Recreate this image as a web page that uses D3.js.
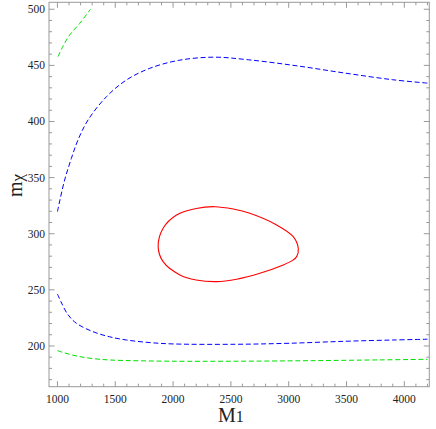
<!DOCTYPE html>
<html>
<head>
<meta charset="utf-8">
<script src="https://cdn.jsdelivr.net/npm/d3@7/dist/d3.min.js"></script>
<style>
  body { margin: 0; background: #fff; }
  .tick-label { font-family: "Liberation Serif", "DejaVu Serif", serif; font-size: 11.5px; fill: #222; }
  .axis-title { font-family: "Liberation Serif", "DejaVu Serif", serif; fill: #222; }
</style>
</head>
<body>
<div id="chart"></div>
<script>
// contour lines, as [M1, m_chi]
const redContour = [
    [1871, 288.5], [1914, 304.9], [2030, 316.7], [2200, 322.5], [2362, 324.1],
    [2520, 322.0], [2664, 318.2], [2896, 307.8], [3039, 297.4], [3083, 287],
    [3069, 279.6], [3030, 276.0], [2953, 272.2], [2751, 264.8], [2550, 259.5],
    [2376, 257.3], [2200, 258.8], [2059, 263.3], [1914, 275.1]
];
const blueUpper = [
    [1000, 319.7], [1060, 347], [1120, 367], [1178, 383.6], [1265, 401.4],
    [1424, 422.1], [1597, 437], [1799, 447.4], [2050, 454.5], [2350, 457.3],
    [2650, 455], [3063, 449.7], [3495, 443], [3900, 437.2], [4200, 434.2]
];
const blueLower = [
    [1000, 246.3], [1030, 239.5], [1090, 228], [1164, 220.2], [1308, 212.7],
    [1450, 208.2], [1597, 205.3], [1800, 203], [2000, 201.8], [2543, 201.5],
    [3005, 202.4], [3495, 204.2], [3900, 205.3], [4200, 206]
];
const greenUpper = [
    [1005, 457.8], [1050, 467.5], [1106, 477.1], [1193, 487.5], [1286, 500]
];
const greenLower = [
    [1000, 195.8], [1100, 192.7], [1193, 190.5], [1320, 188.6], [1453, 187.5],
    [1700, 186.8], [2000, 186.4], [2543, 186.4], [3200, 186.9], [3800, 187.6], [4200, 188.1]
];

const xTicks = [1000, 1500, 2000, 2500, 3000, 3500, 4000];
const yTicks = [200, 250, 300, 350, 400, 450, 500];

const margin = {top: 2.3, right: 6.7, bottom: 42.3, left: 49};
const width = 436 - margin.left - margin.right;
const height = 429 - margin.top - margin.bottom;

const svg = d3.select("#chart").append("svg")
    .attr("width", 436)
    .attr("height", 429)
    .append("g")
    .attr("transform", `translate(${margin.left},${margin.top})`);

const x = d3.scaleLinear().domain([927, 4216]).range([0, width]);
const y = d3.scaleLinear().domain([163.7, 506.2]).range([height, 0]);

// frame
svg.append("rect")
    .attr("width", width)
    .attr("height", height)
    .attr("fill", "none")
    .attr("stroke", "#999")
    .attr("stroke-width", 1);

// ticks on all four sides, pointing inward
const xMinor = d3.range(1000, 4201, 100);
const yMinor = d3.range(170, 506, 10);

xMinor.forEach(v => {
    let len = v % 500 === 0 ? 5.5 : 3;
    svg.append("line").attr("x1", x(v)).attr("x2", x(v))
        .attr("y1", height).attr("y2", height - len)
        .attr("stroke", "#999");
    svg.append("line").attr("x1", x(v)).attr("x2", x(v))
        .attr("y1", 0).attr("y2", len)
        .attr("stroke", "#999");
});

yMinor.forEach(v => {
    let len = v % 50 === 0 ? 5.5 : 3;
    svg.append("line").attr("y1", y(v)).attr("y2", y(v))
        .attr("x1", 0).attr("x2", len)
        .attr("stroke", "#999");
    svg.append("line").attr("y1", y(v)).attr("y2", y(v))
        .attr("x1", width).attr("x2", width - len)
        .attr("stroke", "#999");
});

svg.selectAll(".xlab")
    .data(xTicks)
    .join("text")
    .attr("class", "tick-label")
    .attr("text-anchor", "middle")
    .attr("x", d => x(d))
    .attr("y", height + 16)
    .text(d => d);

svg.selectAll(".ylab")
    .data(yTicks)
    .join("text")
    .attr("class", "tick-label")
    .attr("text-anchor", "end")
    .attr("x", -4)
    .attr("y", d => y(d) + 4)
    .text(d => d);

// axis titles
let xTitle = svg.append("text")
    .attr("class", "axis-title")
    .attr("text-anchor", "middle")
    .attr("x", x(2500))
    .attr("y", height + 35)
    .style("font-size", "20px");
xTitle.append("tspan").text("M");
xTitle.append("tspan").style("font-size", "16px").text("1");

let yTitle = svg.append("text")
    .attr("class", "axis-title")
    .attr("text-anchor", "middle")
    .attr("transform", `translate(-27,${y(343)}) rotate(-90)`)
    .style("font-size", "20px");
yTitle.append("tspan").text("m");
yTitle.append("tspan").style("font-size", "17px").attr("dy", 1).text("χ");

// contours
const line = d3.line()
    .x(d => x(d[0]))
    .y(d => y(d[1]))
    .curve(d3.curveCatmullRom);

const plot = svg.append("g");

[
    {data: blueUpper, color: "#0000ff"},
    {data: blueLower, color: "#0000ff"},
    {data: greenUpper, color: "#00e000"},
    {data: greenLower, color: "#00e000"}
].forEach(s => {
    plot.append("path")
        .attr("d", line(s.data))
        .attr("fill", "none")
        .attr("stroke", s.color)
        .attr("stroke-width", 1)
        .attr("stroke-dasharray", "5,2.7");
});

plot.append("path")
    .attr("d", line.curve(d3.curveCatmullRomClosed)(redContour))
    .attr("fill", "none")
    .attr("stroke", "#ff0000")
    .attr("stroke-width", 1.1);
</script>
</body>
</html>
